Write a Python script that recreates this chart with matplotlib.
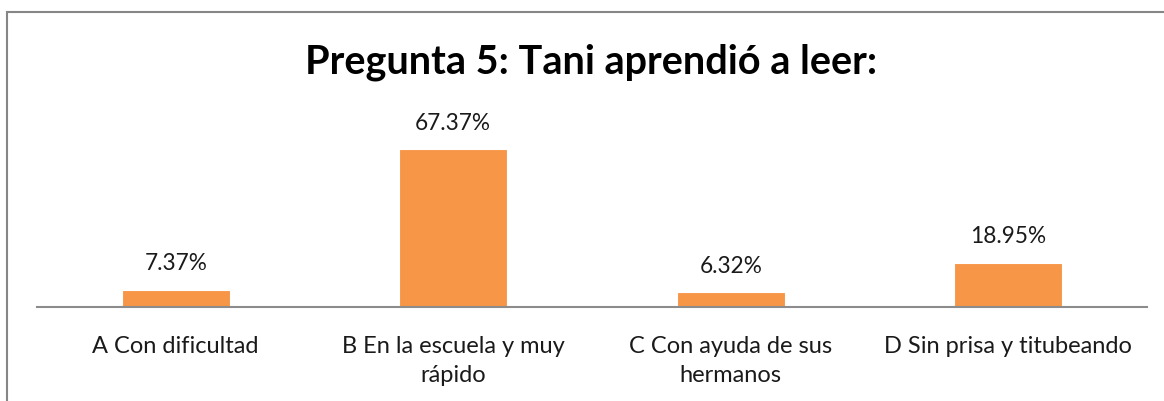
import matplotlib.pyplot as plt
from matplotlib.patches import Rectangle

categories = ["A Con dificultad", "B En la escuela y muy\nrápido",
              "C Con ayuda de sus\nhermanos", "D Sin prisa y titubeando"]
values = [7.37, 67.37, 6.32, 18.95]
title = "Pregunta 5: Tani aprendió a leer:"

W, H = 1164, 401
fig = plt.figure(figsize=(W / 100, H / 100), dpi=100)
plt.rcParams['font.family'] = ['Lato', 'DejaVu Sans']

# outer chart border (right and bottom fall outside the image)
fig.patches.append(Rectangle((7 / W, -0.1), 1.2, (H - 12) / H + 0.1,
                             transform=fig.transFigure, fill=False,
                             edgecolor='#868686', linewidth=1.5))

ax = fig.add_axes([37 / W, (H - 307) / H, 1110 / W, 187.6 / H])
x = range(len(values))
bars = ax.bar(x, values, width=0.39, color='#f79646', edgecolor='white',
              linewidth=0.8)
ax.set_xlim(-0.5, len(values) - 0.5)
ax.set_ylim(0, 80)

for b, v in zip(bars, values):
    ax.annotate(f"{v:.2f}%", (b.get_x() + b.get_width() / 2, v),
                xytext=(0, 11), textcoords='offset points',
                ha='center', va='bottom', fontsize=16.3, color='#1a1a1a')

ax.set_xticks(list(x))
ax.set_xticklabels(categories, fontsize=17, color='#1a1a1a', linespacing=1.48)
ax.tick_params(axis='x', length=0, pad=21)
ax.set_yticks([])
for s in ['top', 'right', 'left']:
    ax.spines[s].set_visible(False)
ax.spines['bottom'].set_color('#8c8c8c')
ax.spines['bottom'].set_linewidth(1.5)

fig.text(591 / W, (H - 62) / H, title, ha='center', va='center',
         fontsize=28.5, fontweight='bold', color='black')

fig.savefig("out.png", dpi=100)
